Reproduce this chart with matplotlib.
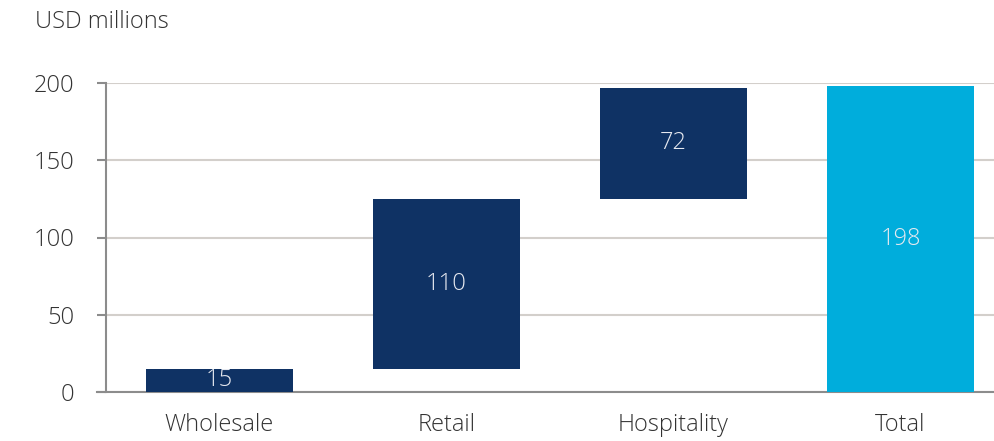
import numpy as np
import matplotlib.pyplot as plt

plt.rcParams['font.family'] = ['Open Sans', 'DejaVu Sans']

categories = ['Wholesale', 'Retail', 'Hospitality', 'Total']
steps = [15, 110, 72]
total = 198

# waterfall: each step sits on top of the running sum
bottoms = list(np.concatenate([[0], np.cumsum(steps)[:-1]])) + [0]
heights = steps + [total]
labels = [str(v) for v in heights]
colors = ['#0f3264', '#0f3264', '#0f3264', '#00addc']

fig = plt.figure(figsize=(9.95, 4.41), dpi=100)
ax = fig.add_axes([106 / 995, 49 / 441, 1 - 106 / 995, (392 - 83) / 441])

x = np.arange(len(categories))
ax.bar(x, heights, bottom=bottoms, width=0.645, color=colors, zorder=3)
for xi, b, h, lab in zip(x, bottoms, heights, labels):
    ax.text(xi, b + h / 2, lab, ha='center', va='center', color='#e6e9f0',
            fontsize=17, fontweight='light', zorder=4)

ax.set_ylim(0, 200)
ax.set_xlim(-0.5, (995 - 106) / 227 - 0.5)
ax.set_yticks([0, 50, 100, 150, 200])
ax.set_xticks(x)
ax.set_xticklabels(categories)
ax.yaxis.grid(True, color='#d3cfcb', linewidth=1.5, zorder=0)

for s in ['top', 'right']:
    ax.spines[s].set_visible(False)
ax.spines['left'].set_color('#8c8c8c')
ax.spines['left'].set_linewidth(1.5)
ax.spines['bottom'].set_color('#8c8c8c')
ax.spines['bottom'].set_linewidth(1.5)
ax.spines['bottom'].set_bounds(-0.54, 3.5)
ax.tick_params(axis='y', length=6.5, width=1.5, color='#8c8c8c', labelsize=17,
               labelcolor='#333333', pad=16)
ax.tick_params(axis='x', length=0, labelsize=17, labelcolor='#333333', pad=15)
for t in ax.get_xticklabels() + ax.get_yticklabels():
    t.set_fontweight('light')

fig.text(35 / 995, 1 - 22 / 441, 'USD millions', fontsize=17, color='#333333',
         fontweight='light', va='center', ha='left')

fig.savefig('out.png', dpi=100)
